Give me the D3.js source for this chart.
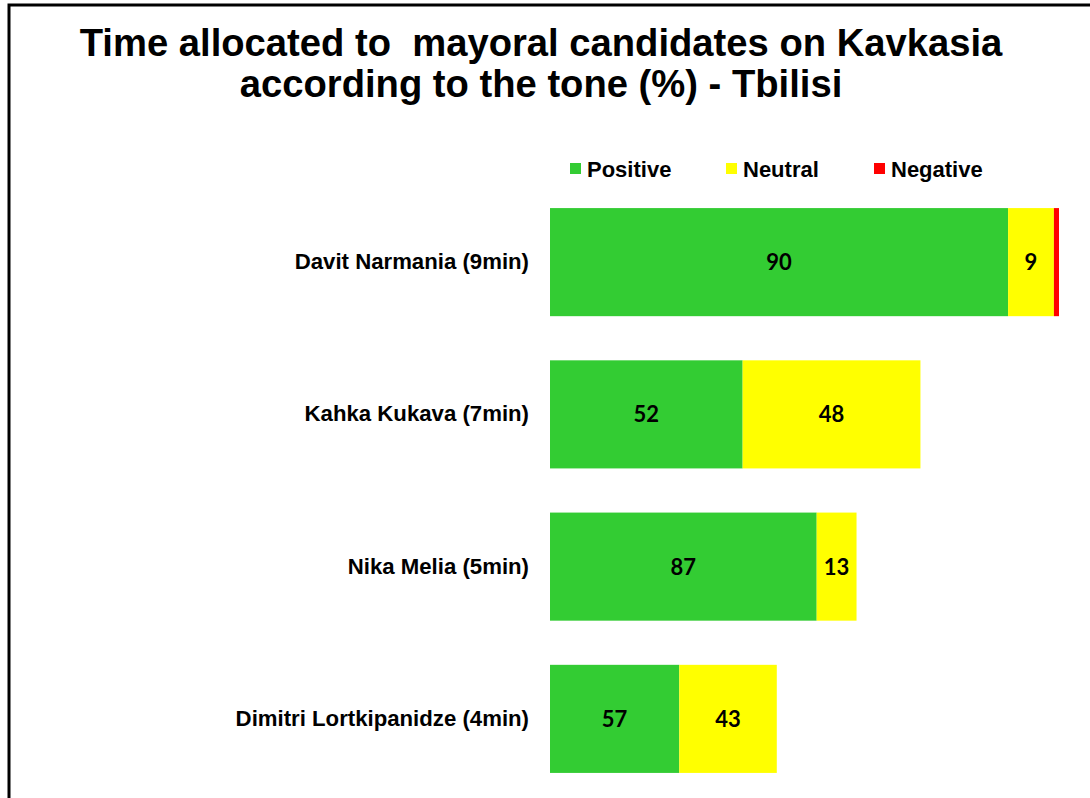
<!DOCTYPE html>
<html>
<head>
<meta charset="utf-8">
<script src="https://cdn.jsdelivr.net/npm/d3@7"></script>
<style>
  html, body { margin: 0; padding: 0; background: #fff; }
  svg { display: block; }
</style>
</head>
<body>
<svg id="chart" width="1090" height="798"></svg>
<script>
// Candidates and the length of their coverage (minutes)
const candidates = [
  "Davit Narmania (9min)",
  "Kahka Kukava (7min)",
  "Nika Melia (5min)",
  "Dimitri Lortkipanidze (4min)"
];
const minutes = [9.0, 6.55, 5.42, 4.01];

// Share of each candidate's time by tone (%)
const positive = [90, 52, 87, 57];
const neutral  = [9, 48, 13, 43];
const negative = [1, 0, 0, 0];

const seriesNames  = ["Positive", "Neutral", "Negative"];
const seriesColors = ["#33CC33", "#FFFF00", "#FF0000"];

const titleLines = [
  "Time allocated to  mayoral candidates on Kavkasia",
  "according to the tone (%) - Tbilisi"
];

const W = 1090, H = 798;
const svg = d3.select("#chart");

// frame
svg.append("rect")
  .attr("x", 9).attr("y", 5)
  .attr("width", W + 20).attr("height", H + 20)
  .attr("fill", "none").attr("stroke", "#000").attr("stroke-width", 3);

// title
svg.append("g").selectAll("text")
  .data(titleLines)
  .join("text")
  .attr("x", 541)
  .attr("y", (d, i) => 56 + i * 41)
  .attr("text-anchor", "middle")
  .attr("font-family", "Liberation Sans, Arial, sans-serif")
  .attr("font-weight", "bold")
  .attr("font-size", 38.2)
  .attr("fill", "#000")
  .style("white-space", "pre")
  .text(d => d);

// rows: each segment length = minutes * share
const rows = candidates.map((c, i) => ({
  name: c,
  Positive: minutes[i] * positive[i] / 100,
  Neutral: minutes[i] * neutral[i] / 100,
  Negative: minutes[i] * negative[i] / 100,
  pct: { Positive: positive[i], Neutral: neutral[i], Negative: negative[i] }
}));

const stack = d3.stack().keys(seriesNames)(rows);

const x = d3.scaleLinear().domain([0, 9]).range([550, 1059]);
const y = d3.scaleBand().domain(candidates).range([186, 795])
  .paddingInner(0.29).paddingOuter(0.145);
const color = d3.scaleOrdinal().domain(seriesNames).range(seriesColors);

const layers = svg.append("g").selectAll("g")
  .data(stack)
  .join("g")
  .attr("fill", d => color(d.key));

layers.selectAll("rect")
  .data(d => d.map(s => ({ s, key: d.key })))
  .join("rect")
  .attr("x", d => x(d.s[0]))
  .attr("y", d => y(d.s.data.name))
  .attr("width", d => x(d.s[1]) - x(d.s[0]))
  .attr("height", y.bandwidth());

// value labels inside segments
layers.selectAll("text")
  .data(d => d.map(s => ({ s, key: d.key })).filter(d => d.s.data.pct[d.key] >= 5))
  .join("text")
  .attr("x", d => (x(d.s[0]) + x(d.s[1])) / 2)
  .attr("y", d => y(d.s.data.name) + y.bandwidth() / 2)
  .attr("dy", "0.36em")
  .attr("text-anchor", "middle")
  .attr("font-family", "Lato, 'Open Sans', sans-serif")
  .attr("font-weight", "bold")
  .attr("font-size", 22)
  .attr("fill", "#000")
  .text(d => d.s.data.pct[d.key]);

// category axis (labels only)
const yAxis = svg.append("g")
  .attr("transform", "translate(529,0)")
  .call(d3.axisLeft(y).tickSize(0).tickPadding(0));
yAxis.select(".domain").remove();
yAxis.selectAll("text")
  .attr("font-family", "Liberation Sans, Arial, sans-serif")
  .attr("font-weight", "bold")
  .attr("font-size", 22.2)
  .attr("fill", "#000");

// legend
const legendX = [570, 726, 874];
const legend = svg.append("g").selectAll("g")
  .data(seriesNames)
  .join("g")
  .attr("transform", (d, i) => `translate(${legendX[i]},163)`);
legend.append("rect")
  .attr("width", 11).attr("height", 11)
  .attr("fill", d => color(d));
legend.append("text")
  .attr("x", 17).attr("y", 6)
  .attr("dy", "0.36em")
  .attr("font-family", "Liberation Sans, Arial, sans-serif")
  .attr("font-weight", "bold")
  .attr("font-size", 22)
  .attr("fill", "#000")
  .text(d => d);
</script>
</body>
</html>
